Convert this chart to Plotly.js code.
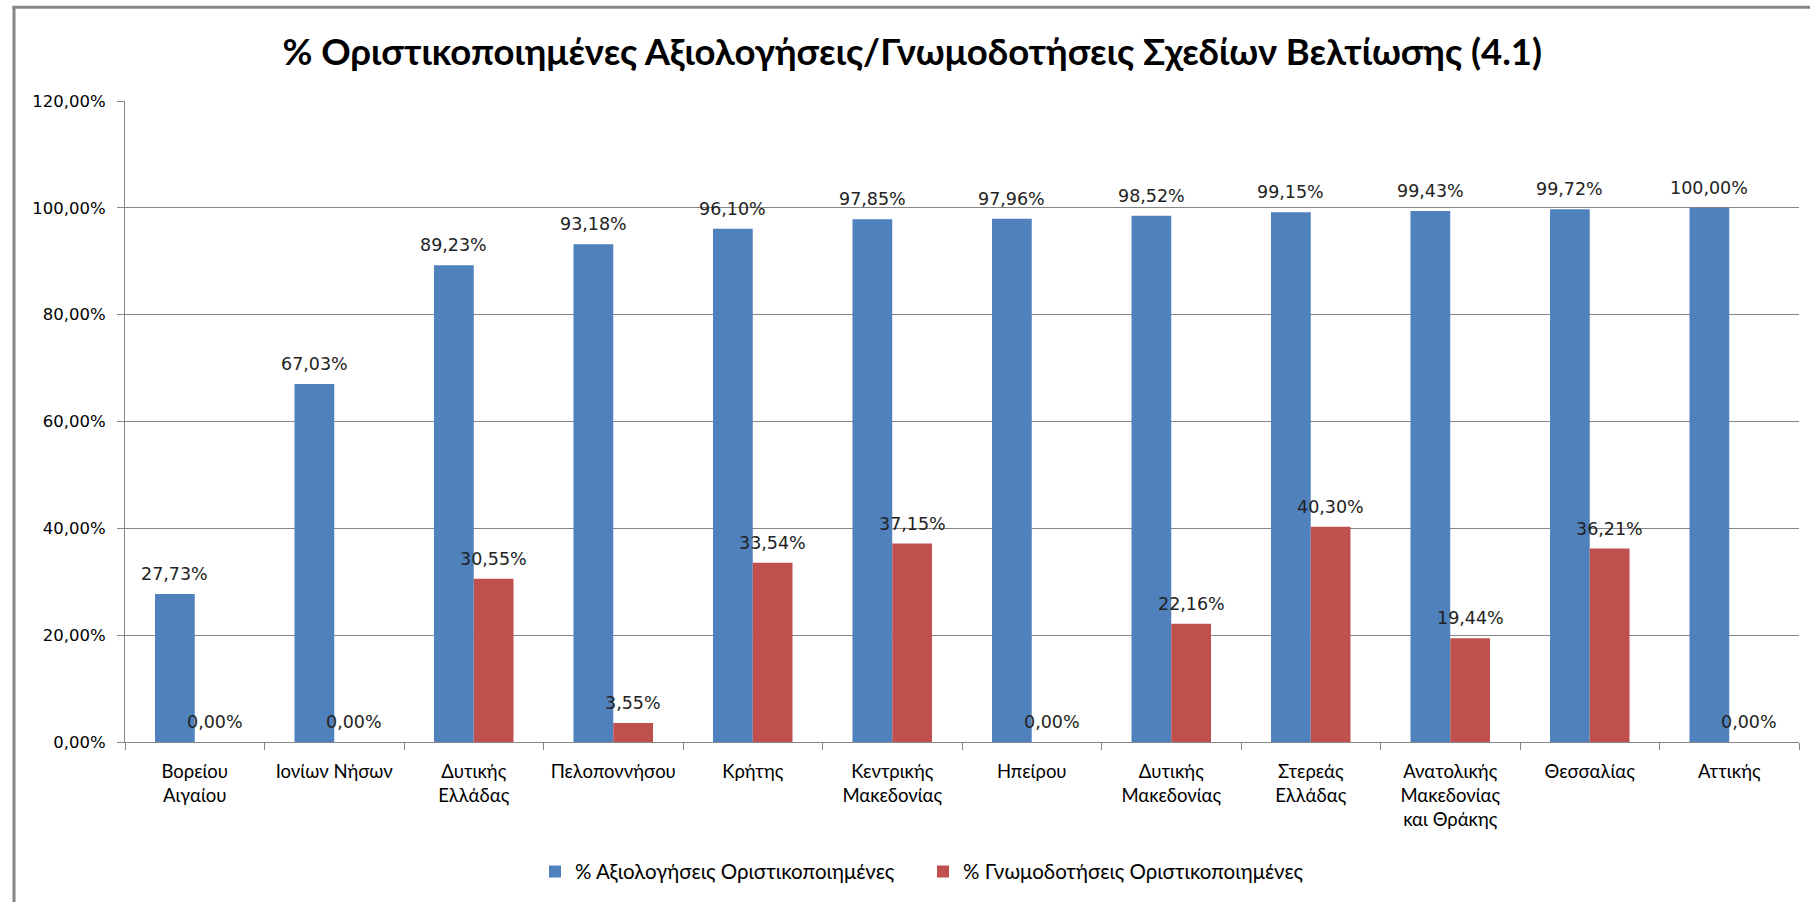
<!DOCTYPE html>
<html>
<head>
<meta charset="utf-8">
<script src="https://cdn.plot.ly/plotly-3.0.1.min.js"></script>
<style>
html,body{margin:0;padding:0;background:#fff;}
#chart{width:1810px;height:902px;}
</style>
</head>
<body>
<div id="chart"></div>
<script>
var categories = [
  "Βορείου<br>Αιγαίου",
  "Ιονίων Νήσων",
  "Δυτικής<br>Ελλάδας",
  "Πελοποννήσου",
  "Κρήτης",
  "Κεντρικής<br>Μακεδονίας",
  "Ηπείρου",
  "Δυτικής<br>Μακεδονίας",
  "Στερεάς<br>Ελλάδας",
  "Ανατολικής<br>Μακεδονίας<br>και Θράκης",
  "Θεσσαλίας",
  "Αττικής"
];
var seriesNames = ["% Αξιολογήσεις Οριστικοποιημένες", "% Γνωμοδοτήσεις Οριστικοποιημένες"];
var evaluations = [0.2773, 0.6703, 0.8923, 0.9318, 0.9610, 0.9785, 0.9796, 0.9852, 0.9915, 0.9943, 0.9972, 1.0000];
var opinions    = [0.0000, 0.0000, 0.3055, 0.0355, 0.3354, 0.3715, 0.0000, 0.2216, 0.4030, 0.1944, 0.3621, 0.0000];
var yTickValues = [0, 0.2, 0.4, 0.6, 0.8, 1.0, 1.2];
var chartTitle = "% Οριστικοποιημένες Αξιολογήσεις/Γνωμοδοτήσεις Σχεδίων Βελτίωσης (4.1)";
var seriesColors = ["#4F81BD", "#C0504D"];

var labelFont = {family: "DejaVu Sans, Verdana, sans-serif", size: 17.5, color: "#222"};
var calibriLike = "Lato, Open Sans, sans-serif";

var L = 125, R = 11, T = 101, B = 158, W = 1810, H = 902;
var pw = W - L - R, ph = H - T - B;
function px2x(p){ return (p - L) / pw; }
function py2y(p){ return (H - B - p) / ph; }
var bargap = 0.43;
var barPx = pw / categories.length * (1 - bargap) / 2;

function fmtPct(v){ return (v * 100).toFixed(2).replace(".", ",") + "%"; }

var seriesValues = [evaluations, opinions];
var traces = seriesValues.map(function(vals, s){
  return {
    type: "bar", name: seriesNames[s], x: categories, y: vals,
    marker: {color: seriesColors[s]},
    hoverinfo: "skip"
  };
});

var annotations = [];
seriesValues.forEach(function(vals, s){
  vals.forEach(function(v, i){
    annotations.push({
      x: categories[i], y: v, xref: "x", yref: "y",
      text: fmtPct(v), showarrow: false,
      xanchor: "center", yanchor: "bottom",
      xshift: (s === 0 ? -1 : 1) * barPx / 2,
      yshift: 8,
      font: labelFont
    });
  });
});

var layout = {
  width: W, height: H,
  margin: {l: L, r: R, t: T, b: B, pad: 0},
  paper_bgcolor: "#fff", plot_bgcolor: "#fff",
  separators: ",.",
  barmode: "group",
  bargap: bargap,
  bargroupgap: 0,
  title: {
    text: "<b>" + chartTitle + "</b>",
    font: {family: calibriLike, size: 36.5, color: "#000"},
    x: 0.504, xanchor: "center", xref: "container",
    y: 1 - 52 / H, yanchor: "middle", yref: "container"
  },
  xaxis: {
    type: "category",
    tickson: "boundaries",
    ticks: "outside", ticklen: 7, tickcolor: "#868686", tickwidth: 1,
    showline: true, linecolor: "#868686", linewidth: 1,
    showgrid: false,
    ticklabelstandoff: 13,
    tickfont: {family: calibriLike, size: 18.5, color: "#000"},
    tickangle: 0,
    automargin: false
  },
  yaxis: {
    range: [0, 1.2],
    tickvals: yTickValues,
    tickformat: ".2%",
    ticks: "outside", ticklen: 7, tickcolor: "#868686", tickwidth: 1,
    showline: true, linecolor: "#868686", linewidth: 1,
    showgrid: true, gridcolor: "#868686", gridwidth: 1,
    zeroline: false,
    ticklabelstandoff: 8,
    tickfont: {family: "DejaVu Sans, Verdana, sans-serif", size: 16.5, color: "#000"},
    automargin: false
  },
  showlegend: true,
  legend: {
    orientation: "h",
    x: px2x(535), xanchor: "left",
    y: py2y(874), yanchor: "middle",
    entrywidth: 343, entrywidthmode: "pixels",
    font: {family: calibriLike, size: 20.5, color: "#000"},
    bgcolor: "rgba(0,0,0,0)",
    itemclick: false, itemdoubleclick: false,
    traceorder: "normal"
  },
  annotations: annotations,
  shapes: [
    {type: "line", xref: "paper", yref: "paper", x0: px2x(14), x1: px2x(14), y0: py2y(6), y1: py2y(910),
     line: {color: "#868686", width: 3}},
    {type: "line", xref: "paper", yref: "paper", x0: px2x(12.5), x1: px2x(1815), y0: py2y(7), y1: py2y(7),
     line: {color: "#868686", width: 3}}
  ]
};

Plotly.newPlot("chart", traces, layout, {displayModeBar: false, staticPlot: true});
</script>
</body>
</html>
